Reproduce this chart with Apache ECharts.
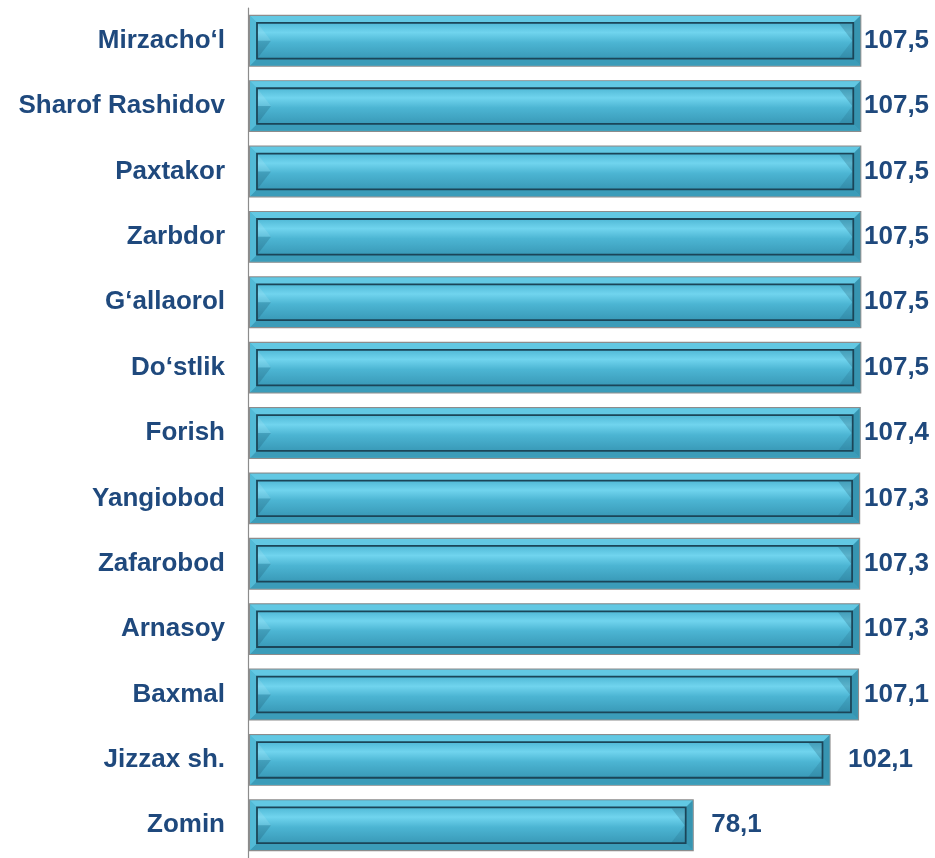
<!DOCTYPE html>
<html>
<head>
<meta charset="utf-8">
<script src="https://cdn.jsdelivr.net/npm/echarts@6/dist/echarts.min.js"></script>
<style>
html,body{margin:0;padding:0;background:#fff;}
#main{width:935px;height:858px;}
</style>
</head>
<body>
<div id="main"></div>
<script>
const categories = ['Mirzacho‘l','Sharof Rashidov','Paxtakor','Zarbdor','G‘allaorol','Do‘stlik','Forish','Yangiobod','Zafarobod','Arnasoy','Baxmal','Jizzax sh.','Zomin'];
const values = [107.5,107.5,107.5,107.5,107.5,107.5,107.4,107.3,107.3,107.3,107.1,102.1,78.1];

const FONT = '"Liberation Sans", Arial, sans-serif';
const TXT = '#1f497d';

const chart = echarts.init(document.getElementById('main'), null, {renderer:'canvas'});

function renderItem(params, api){
  const idx = api.value(1);
  const v = api.value(0);
  const p0 = api.coord([0, idx]);
  const p1 = api.coord([v, idx]);
  const band = api.size([0,1])[1];
  const h = band*0.775;
  const x0 = p0[0]+1.5, x1 = p1[0];
  const y0 = p0[1]-h/2, y1 = p0[1]+h/2;
  const b = 7.5;
  const xi0 = x0+b, xi1 = x1-b, yi0 = y0+b, yi1 = y1-b, ym = (yi0+yi1)/2;
  const label = String(v.toFixed(1)).replace('.', ',');
  const tx = Math.min(x1 + 18, 864);
  return {
    type:'group',
    children:[
      {type:'rect', shape:{x:x0, y:y0, width:x1-x0, height:y1-y0}, style:{fill:'#4bb4d1', stroke:'#8c8c8c', lineWidth:1.2}},
      {type:'polygon', shape:{points:[[x0+0.6,y0+0.6],[x1-0.6,y0+0.6],[xi1,yi0],[xi0,yi0]]}, style:{fill:'#62c8e3'}},
      {type:'polygon', shape:{points:[[x0+0.6,y1-0.6],[x1-0.6,y1-0.6],[xi1,yi1],[xi0,yi1]]}, style:{fill:'#3b9cb9'}},
      {type:'polygon', shape:{points:[[x0+0.6,y0+0.6],[xi0,yi0],[xi0,yi1],[x0+0.6,y1-0.6]]}, style:{fill:'#52bad6'}},
      {type:'polygon', shape:{points:[[x1-0.6,y0+0.6],[xi1,yi0],[xi1,yi1],[x1-0.6,y1-0.6]]}, style:{fill:'#3795b1'}},
      {type:'rect', shape:{x:xi0, y:yi0, width:xi1-xi0, height:yi1-yi0}, style:{
        fill:new echarts.graphic.LinearGradient(0,0,0,1,[
          {offset:0,color:'#4db6d4'},{offset:0.28,color:'#70d4ee'},{offset:0.55,color:'#4cb5d3'},{offset:1,color:'#3898b6'}]),
        stroke:'#1b4558', lineWidth:1.8}},
      {type:'polygon', shape:{points:[[xi0+1,yi0+1],[xi0+14,ym],[xi0+1,ym]]}, style:{fill:'rgba(255,255,255,0.10)'}},
      {type:'polygon', shape:{points:[[xi0+1,ym],[xi0+14,ym],[xi0+1,yi1-1]]}, style:{fill:'rgba(10,50,70,0.18)'}},
      {type:'polygon', shape:{points:[[xi1-14,yi0+1],[xi1-1,yi0+1],[xi1-1,yi1-1],[xi1-1,ym]]}, style:{fill:'rgba(10,50,70,0.2)'}},
      {type:'polygon', shape:{points:[[xi1-1,ym],[xi1-1,yi1-1],[xi1-14,yi1-1]]}, style:{fill:'rgba(10,50,70,0.12)'}},
      {type:'text', style:{x:tx, y:p0[1], text:label, fill:TXT, font:'bold 26px '+FONT, textAlign:'left', textVerticalAlign:'middle'}}
    ]
  };
}

chart.setOption({
  animation:false,
  backgroundColor:'#ffffff',
  grid:{left:248, top:8, width:684, height:858, containLabel:false},
  xAxis:{type:'value', min:0, max:120, show:false},
  yAxis:{type:'category', data:categories, inverse:true,
    axisLine:{show:true, lineStyle:{color:'#8c8c8c', width:1.2}},
    axisTick:{show:false},
    axisLabel:{margin:23, color:TXT, fontSize:26, fontWeight:'bold', fontFamily:FONT}
  },
  series:[{
    type:'custom',
    renderItem:renderItem,
    encode:{x:0, y:1},
    clip:false,
    data:values.map((v,i)=>[v,i])
  }]
});
</script>
</body>
</html>
